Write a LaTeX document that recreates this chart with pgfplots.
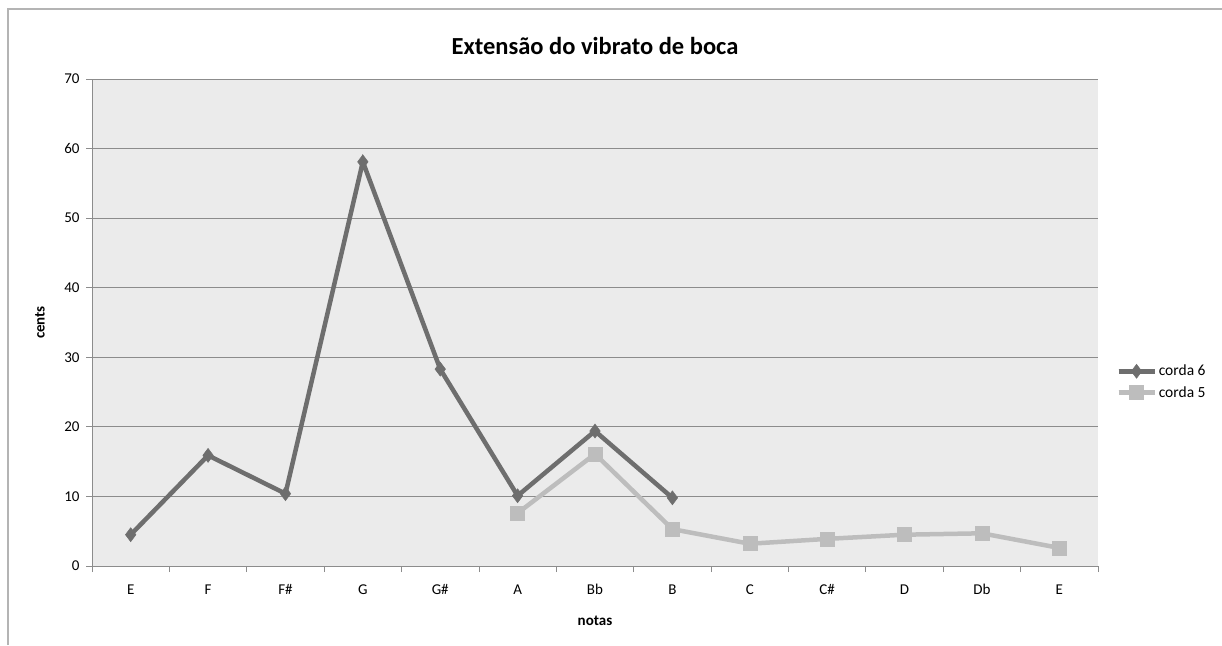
\documentclass[border=0pt]{standalone}
\usepackage{pgfplots}
\pgfplotsset{compat=1.18}
\usepackage{fontspec}
\setmainfont{Carlito}
\definecolor{bgc}{HTML}{EBEBEB}
\definecolor{gridc}{HTML}{8C8C8C}
\definecolor{c6}{HTML}{6E6E6E}
\definecolor{c5}{HTML}{BDBDBD}
\definecolor{framec}{HTML}{B4B4B4}
\begin{document}
\begin{tikzpicture}
\path[use as bounding box] (0,0) rectangle (1222pt,-645pt);
\draw[framec, line width=1.2pt] (8pt,-645pt) -- (8pt,-9pt) -- (1222pt,-9pt);
\node[font=\fontsize{24.5}{28}\selectfont\bfseries] at (595pt,-46pt) {Extensão do vibrato de boca};
\begin{axis}[
  at={(92pt,-566pt)}, anchor=south west,
  width=1006pt, height=487pt, scale only axis,
  axis background/.style={fill=bgc},
  xmin=-0.5, xmax=12.5, ymin=0, ymax=70,
  axis x line*=bottom, axis y line*=left,
  axis line style={gridc, line width=1pt},
  xtick={0,...,12},
  xticklabels={E,F,F\#,G,G\#,A,Bb,B,C,C\#,D,Db,E},
  major x tick style={draw=none},
  minor xtick={-0.5,0.5,...,12.5},
  minor tick length=6pt,
  minor x tick style={gridc, line width=0.8pt},
  xtick align=outside,
  ytick={0,10,...,70},
  ytick align=outside,
  major tick length=6pt,
  y tick style={gridc, line width=0.8pt},
  ymajorgrids,
  major grid style={gridc, line width=1pt},
  tick label style={font=\fontsize{15}{17}\selectfont},
  xticklabel style={yshift=-9pt},
  yticklabel style={xshift=-3pt},
  /pgf/number format/assume math mode=true,
  xlabel={notas}, ylabel={cents},
  xlabel style={font=\fontsize{15}{17}\selectfont\bfseries, at={(axis description cs:0.5,-0.113)}, anchor=center},
  ylabel style={font=\fontsize{15}{17}\selectfont\bfseries, at={(axis description cs:-0.0517,0.5)}, anchor=center, rotate=0},
  legend style={draw=none, fill=none, at={(axis description cs:1.018,0.378)}, anchor=west,
    font=\fontsize{15.5}{18}\selectfont, row sep=5pt, inner xsep=0pt},
  legend cell align=left,
  legend image code/.code={\draw[#1] (0pt,0pt) -- (36pt,0pt); \draw[#1, mark repeat=2, mark phase=2] plot coordinates {(0pt,0pt) (18pt,0pt) (36pt,0pt)};},
  clip=false,
]
\addplot[c6, line width=4.5pt, mark=diamond*, mark size=7pt, mark options={fill=c6, line width=0.5pt}] coordinates {
(0,4.5) (1,15.9) (2,10.4) (3,58.1) (4,28.3) (5,10.1) (6,19.4) (7,9.8)};
\addlegendentry{corda 6}
\addplot[c5, line width=4.5pt, mark=square*, mark size=7pt, mark options={fill=c5, line width=0.5pt}] coordinates {
(5,7.6) (6,16.1) (7,5.3) (8,3.2) (9,3.9) (10,4.5) (11,4.7) (12,2.6)};
\addlegendentry{corda 5}
\end{axis}
\end{tikzpicture}
\end{document}
